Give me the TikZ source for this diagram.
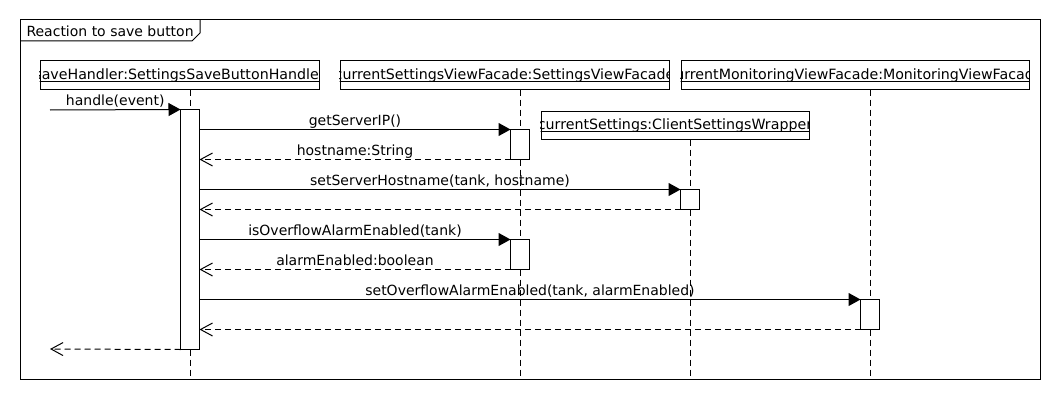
\documentclass[tikz,border=0pt]{standalone}
\usepackage{fontspec}
\setmainfont{DejaVu Sans}
\usetikzlibrary{arrows.meta}

% header label of a participant: underlined, centred, clipped to its box
\newcommand\partlabel[2]{%
  \begin{scope}
    \clip (#1.south west) rectangle (#1.north east);
    \node[anchor=base, inner sep=0pt, yshift=10.5pt, font=\fontsize{14.2}{16}\selectfont] (#1-txt) at (#1.south) {#2};
    \draw[line width=0.9pt] ([yshift=-2.3pt]#1-txt.base west) -- ([yshift=-2.3pt]#1-txt.base east);
  \end{scope}}

\begin{document}
\begin{tikzpicture}[x=1pt, y=-1pt, line width=1pt,
  font=\fontsize{14}{16}\selectfont,
  hdr/.style={draw, rectangle, inner sep=0pt},
  actpos/.style={rectangle, inner sep=0pt, minimum width=18pt},
  lifeline/.style={dash pattern=on 6pt off 4pt},
  call/.style={-{Triangle[length=12pt, width=13pt]}},
  reply/.style={dash pattern=on 6pt off 4pt, -{Straight Barb[length=12pt, width=13pt]}},
  lbl/.style={anchor=base, yshift=4.5pt, inner sep=0pt}]

\useasboundingbox (0,0) rectangle (1060,420);

% frame with its name tab
\draw (20,20) rectangle (1040,379);
\draw (20,41) -- (192,41) -- (200,33) -- (200,20);
\node[anchor=base west, inner sep=0pt] (title) at (26,37) {Reaction to save button};

% participants
\node[hdr, minimum width=279pt, minimum height=28pt] (sh) at (179.5,75) {};
\node[hdr, minimum width=329pt, minimum height=28pt] (svf) at (504.5,75) {};
\node[hdr, minimum width=348pt, minimum height=28pt] (mvf) at (855,75) {};
\node[hdr, minimum width=268pt, minimum height=28pt] (cs) at (675,125) {};
\partlabel{sh}{saveHandler:SettingsSaveButtonHandler}
\partlabel{svf}{currentSettingsViewFacade:SettingsViewFacade}
\partlabel{mvf}{currentMonitoringViewFacade:MonitoringViewFacade}
\partlabel{cs}{currentSettings:ClientSettingsWrapper}

% activation bars (positions only; drawn last)
\node[actpos, minimum height=239pt] (a1) at (190,229.5) {};
\node[actpos, minimum height=29pt] (a2) at (520,144.5) {};
\node[actpos, minimum height=19pt] (a3) at (690,199.5) {};
\node[actpos, minimum height=29pt] (a4) at (520,254.5) {};
\node[actpos, minimum height=29pt] (a5) at (870,314.5) {};

% lifeline ends and the outside caller
\coordinate (sh-end) at (190,379);
\coordinate (svf-end) at (520,379);
\coordinate (cs-end) at (690,379);
\coordinate (mvf-end) at (870,379);
\coordinate (caller) at (50,110);
\coordinate (caller-back) at (50,349);

% messages
\draw[call] (caller) -- node[lbl] {handle(event)} (a1.north west);
\draw[call] (a1.east |- a2.north) -- node[lbl] {getServerIP()} (a2.north west);
\draw[reply] (a2.south west) -- node[lbl] {hostname:String} (a1.east |- a2.south);
\draw[call] (a1.east |- a3.north) -- node[lbl] {setServerHostname(tank, hostname)} (a3.north west);
\draw[reply] (a3.south west) -- (a1.east |- a3.south);
\draw[call] (a1.east |- a4.north) -- node[lbl] {isOverflowAlarmEnabled(tank)} (a4.north west);
\draw[reply] (a4.south west) -- node[lbl] {alarmEnabled:boolean} (a1.east |- a4.south);
\draw[call] (a1.east |- a5.north) -- node[lbl] {setOverflowAlarmEnabled(tank, alarmEnabled)} (a5.north west);
\draw[reply] (a5.south west) -- (a1.east |- a5.south);
\draw[reply] (a1.south west) -- (caller-back);

% lifelines
\draw[lifeline] (sh-end |- sh.south) -- (sh-end);
\draw[lifeline] (svf-end |- svf.south) -- (svf-end);
\draw[lifeline] (cs-end |- cs.south) -- (cs-end);
\draw[lifeline] (mvf-end |- mvf.south) -- (mvf-end);

% activation bars
\foreach \a in {a1,a2,a3,a4,a5}
  \draw[fill=white] (\a.north west) rectangle (\a.south east);

\end{tikzpicture}
\end{document}
